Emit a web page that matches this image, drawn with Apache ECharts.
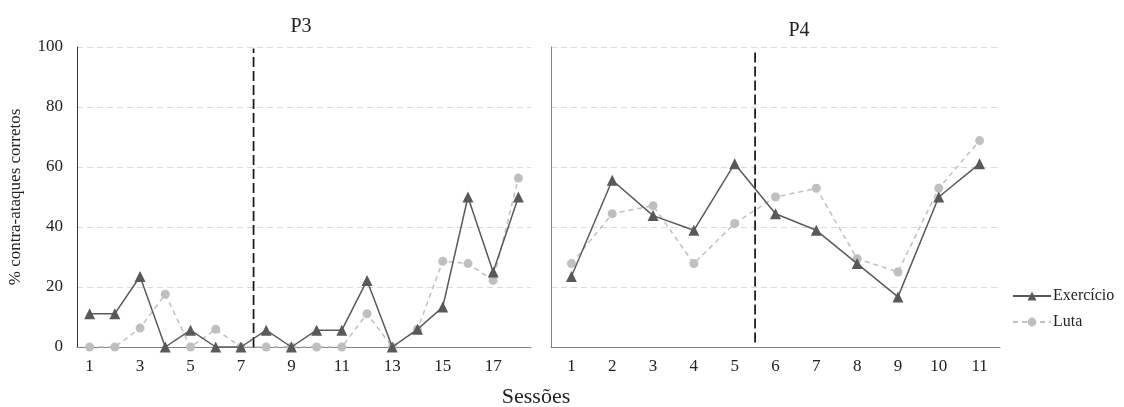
<!DOCTYPE html>
<html>
<head>
<meta charset="utf-8">
<title>P3 / P4</title>
<script src="https://cdn.jsdelivr.net/npm/echarts@6/dist/echarts.min.js"></script>
<style>
  html, body { margin: 0; padding: 0; background: #fff; }
  #container { width: 1124px; height: 407px; }
</style>
</head>
<body>
<div id="container"></div>
<script type="text/javascript">
// sessões
var sessP3 = ['1','2','3','4','5','6','7','8','9','10','11','12','13','14','15','16','17','18'];
var sessP4 = ['1','2','3','4','5','6','7','8','9','10','11'];

// % contra-ataques corretos
var exercicioP3 = [11.1, 11.1, 23.5, 0, 5.6, 0, 0, 5.6, 0, 5.6, 5.6, 22.2, 0, 5.9, 13.3, 50, 25, 50];
var lutaP3      = [0, 0, 6.3, 17.6, 0, 5.9, 0, 0, 0, 0, 0, 11.1, 0, 5.9, 28.6, 27.8, 22.2, 56.3];
var exercicioP4 = [23.5, 55.6, 43.8, 38.9, 61.1, 44.4, 38.9, 27.8, 16.7, 50, 61.1];
var lutaP4      = [27.8, 44.4, 47.1, 27.8, 41.2, 50, 52.9, 29.4, 25, 52.9, 68.8];

// mudança de fase (entre sessões)
var faseP3 = [[7.5, 0], [7.5, 99.5]];
var faseP4 = [[5.5, 1.5], [5.5, 98.3]];

var fonte = '"Liberation Serif", "DejaVu Serif", serif';
var corEx = '#595959';
var corLuta = '#bfbfbf';

var myChart = echarts.init(document.getElementById('container'));

function serieEx(idx, dados) {
  return {
    name: 'Exercício',
    type: 'line',
    xAxisIndex: idx,
    yAxisIndex: idx,
    data: dados,
    symbol: 'triangle',
    symbolSize: 11,
    itemStyle: { color: corEx },
    lineStyle: { color: corEx, width: 1.5 },
    z: 3
  };
}

function serieLuta(idx, dados) {
  return {
    name: 'Luta',
    type: 'line',
    xAxisIndex: idx,
    yAxisIndex: idx,
    data: dados,
    symbol: 'circle',
    symbolSize: 9,
    itemStyle: { color: corLuta },
    lineStyle: { color: corLuta, width: 1.5, type: [5, 4] },
    z: 2
  };
}

// linha tracejada de mudança de fase, desenhada num eixo numérico oculto
function serieFase(eixo, pontos) {
  return {
    type: 'line',
    xAxisIndex: eixo,
    yAxisIndex: eixo - 2,
    data: pontos,
    symbol: 'none',
    silent: true,
    lineStyle: { color: '#111', type: [10, 4], width: 1.7 },
    z: 1
  };
}

var eixoX = function (idx, cats) {
  return {
    type: 'category',
    gridIndex: idx,
    data: cats,
    boundaryGap: true,
    axisLine: { lineStyle: { color: '#808080', width: 1 } },
    axisTick: { show: false },
    axisLabel: {
      interval: idx === 0 ? 1 : 0,
      color: '#222',
      fontFamily: fonte,
      fontSize: 17,
      margin: 11
    }
  };
};

var eixoOculto = function (idx, n) {
  return {
    type: 'value',
    gridIndex: idx,
    min: 0.5,
    max: n + 0.5,
    show: false,
    splitLine: { show: false }
  };
};

option = {
  animation: false,
  textStyle: { fontFamily: fonte },
  title: [
    { text: 'P3', left: 296, top: 12, textAlign: 'center',
      textStyle: { fontFamily: fonte, fontSize: 20, fontWeight: 'normal', color: '#222' } },
    { text: 'P4', left: 794, top: 16, textAlign: 'center',
      textStyle: { fontFamily: fonte, fontSize: 20, fontWeight: 'normal', color: '#222' } },
    { text: 'Sessões', left: 531, top: 381, textAlign: 'center',
      textStyle: { fontFamily: fonte, fontSize: 22, fontWeight: 'normal', color: '#222' } }
  ],
  legend: {
    orient: 'vertical',
    left: 1007,
    top: 283,
    itemWidth: 38,
    itemHeight: 11,
    itemGap: 10,
    data: ['Exercício', 'Luta'],
    textStyle: { fontFamily: fonte, fontSize: 16, color: '#222', padding: [0, 0, 0, -3] }
  },
  grid: [
    { left: 77, top: 47, width: 454, height: 300 },
    { left: 551, top: 47, width: 449, height: 300 }
  ],
  xAxis: [
    eixoX(0, sessP3),
    eixoX(1, sessP4),
    eixoOculto(0, sessP3.length),
    eixoOculto(1, sessP4.length)
  ],
  yAxis: [
    {
      type: 'value',
      gridIndex: 0,
      min: 0, max: 100, interval: 20,
      name: '% contra-ataques corretos',
      nameLocation: 'middle',
      nameGap: 53,
      nameTextStyle: { fontFamily: fonte, fontSize: 17, color: '#222' },
      axisLine: { show: true, lineStyle: { color: '#333', width: 1 } },
      axisTick: { show: false },
      axisLabel: { color: '#222', fontFamily: fonte, fontSize: 17, margin: 14 },
      splitLine: { lineStyle: { color: '#d9d9d9', type: [6, 4], width: 1 } }
    },
    {
      type: 'value',
      gridIndex: 1,
      min: 0, max: 100, interval: 20,
      axisLine: { show: true, lineStyle: { color: '#808080', width: 1 } },
      axisTick: { show: false },
      axisLabel: { show: false },
      splitLine: { lineStyle: { color: '#d9d9d9', type: [6, 4], width: 1 } }
    }
  ],
  series: [
    serieEx(0, exercicioP3),
    serieLuta(0, lutaP3),
    serieEx(1, exercicioP4),
    serieLuta(1, lutaP4),
    serieFase(2, faseP3),
    serieFase(3, faseP4)
  ]
};

myChart.setOption(option);
</script>
</body>
</html>
